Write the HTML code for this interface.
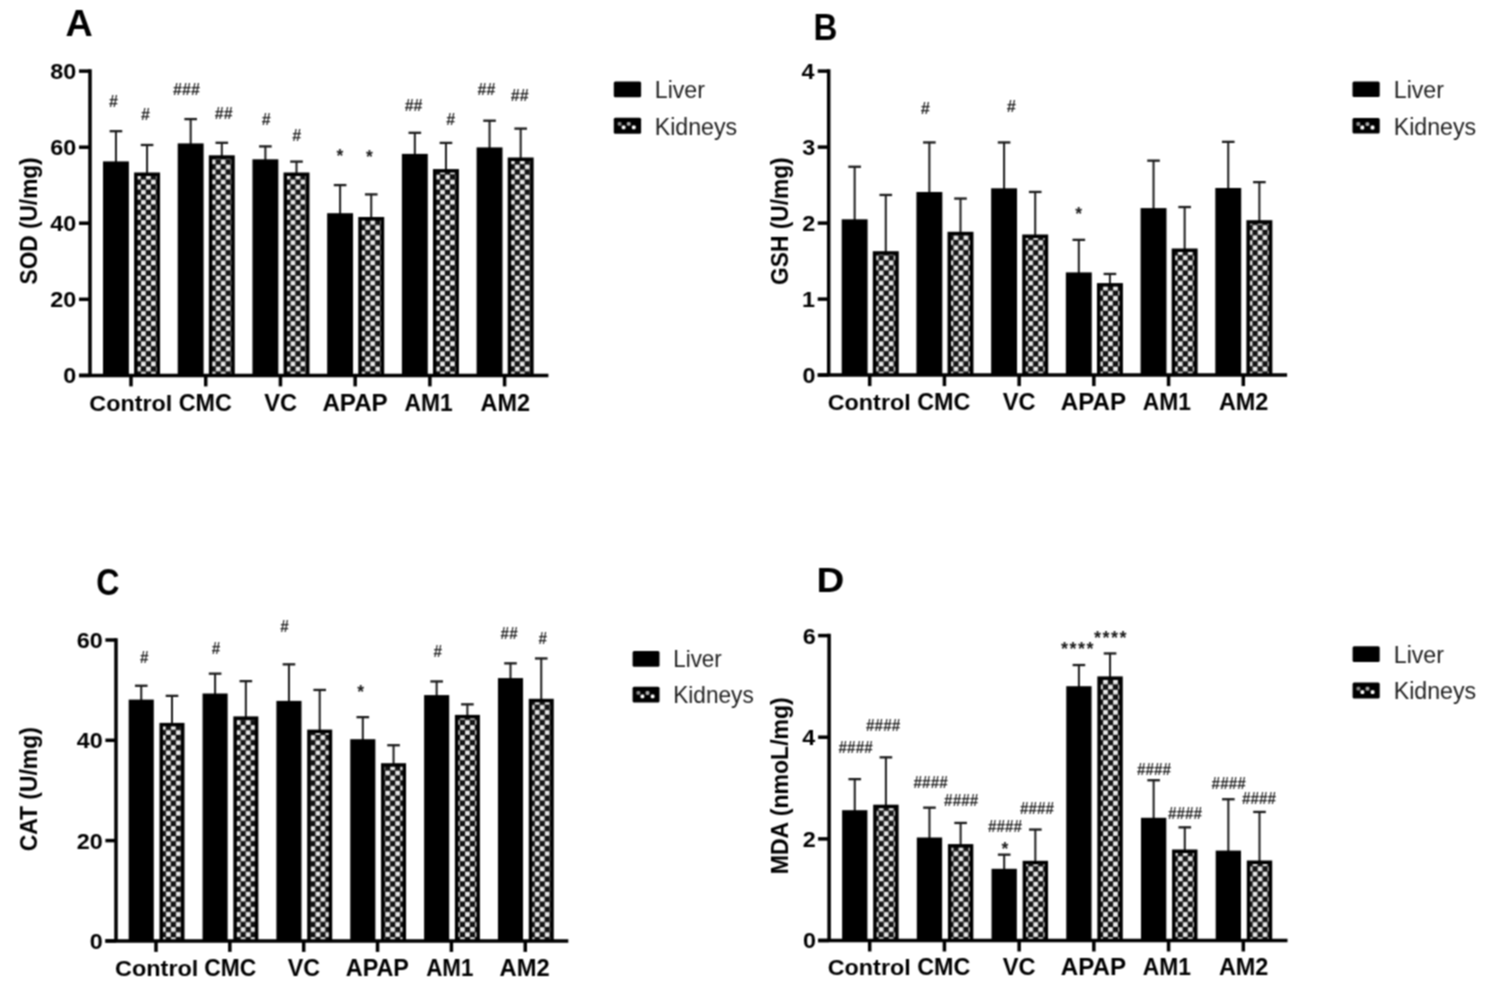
<!DOCTYPE html>
<html><head><meta charset="utf-8"><title>Figure</title>
<style>
html,body{margin:0;padding:0;background:#fff;width:1504px;height:988px;overflow:hidden}
svg{display:block}
text{font-family:'Liberation Sans', Arial, sans-serif}
.ax{stroke:#000;stroke-width:3.5;fill:none}
.eb{fill:#1a1a1a}
</style></head>
<body>
<svg width="1504" height="988" viewBox="0 0 1504 988">
<defs>
<pattern id="chk" patternUnits="userSpaceOnUse" x="140.95" y="250.25" width="9.97" height="10.1">
<rect width="9.97" height="10.1" fill="#111"/>
<rect x="0.15" y="0.25" width="4.6" height="4.6" fill="#eee"/>
<rect x="5.135" y="5.3" width="4.6" height="4.6" fill="#eee"/>
</pattern>
<filter id="soft" x="0" y="0" width="1504" height="988" filterUnits="userSpaceOnUse" color-interpolation-filters="sRGB"><feConvolveMatrix order="3" kernelMatrix="1 2 1 2 4 2 1 2 1" divisor="16" edgeMode="duplicate"/></filter>
</defs>
<g filter="url(#soft)">
<rect width="1504" height="988" fill="#fff"/>
<rect x="114.95" y="130.65" width="2" height="31.75" class="eb"/>
<rect x="109.65" y="130.05" width="12.6" height="2.3" class="eb"/>
<rect x="146.07" y="144.45" width="2" height="29.05" class="eb"/>
<rect x="140.77" y="143.85" width="12.6" height="2.3" class="eb"/>
<rect x="103" y="161.4" width="25.9" height="214"/>
<rect x="134.1" y="172.5" width="25.95" height="202.9"/>
<rect x="137.6" y="176" width="18.95" height="199.4" fill="url(#chk)"/>
<rect x="189.67" y="118.55" width="2" height="25.85" class="eb"/>
<rect x="184.37" y="117.95" width="12.6" height="2.3" class="eb"/>
<rect x="220.8" y="142.25" width="2" height="14.05" class="eb"/>
<rect x="215.5" y="141.65" width="12.6" height="2.3" class="eb"/>
<rect x="177.72" y="143.4" width="25.9" height="232"/>
<rect x="208.82" y="155.3" width="25.95" height="220.1"/>
<rect x="212.32" y="158.8" width="18.95" height="216.6" fill="url(#chk)"/>
<rect x="264.39" y="145.85" width="2" height="14.45" class="eb"/>
<rect x="259.09" y="145.25" width="12.6" height="2.3" class="eb"/>
<rect x="295.51" y="161.05" width="2" height="12.45" class="eb"/>
<rect x="290.21" y="160.45" width="12.6" height="2.3" class="eb"/>
<rect x="252.44" y="159.3" width="25.9" height="216.1"/>
<rect x="283.54" y="172.5" width="25.95" height="202.9"/>
<rect x="287.04" y="176" width="18.95" height="199.4" fill="url(#chk)"/>
<rect x="339.11" y="184.55" width="2" height="29.65" class="eb"/>
<rect x="333.81" y="183.95" width="12.6" height="2.3" class="eb"/>
<rect x="370.24" y="193.85" width="2" height="24.15" class="eb"/>
<rect x="364.94" y="193.25" width="12.6" height="2.3" class="eb"/>
<rect x="327.16" y="213.2" width="25.9" height="162.2"/>
<rect x="358.26" y="217" width="25.95" height="158.4"/>
<rect x="361.76" y="220.5" width="18.95" height="154.9" fill="url(#chk)"/>
<rect x="413.83" y="132.25" width="2" height="22.65" class="eb"/>
<rect x="408.53" y="131.65" width="12.6" height="2.3" class="eb"/>
<rect x="444.96" y="142.35" width="2" height="27.75" class="eb"/>
<rect x="439.66" y="141.75" width="12.6" height="2.3" class="eb"/>
<rect x="401.88" y="153.9" width="25.9" height="221.5"/>
<rect x="432.98" y="169.1" width="25.95" height="206.3"/>
<rect x="436.48" y="172.6" width="18.95" height="202.8" fill="url(#chk)"/>
<rect x="488.55" y="120.15" width="2" height="28.25" class="eb"/>
<rect x="483.25" y="119.55" width="12.6" height="2.3" class="eb"/>
<rect x="519.67" y="128.05" width="2" height="30.45" class="eb"/>
<rect x="514.38" y="127.45" width="12.6" height="2.3" class="eb"/>
<rect x="476.6" y="147.4" width="25.9" height="228"/>
<rect x="507.7" y="157.5" width="25.95" height="217.9"/>
<rect x="511.2" y="161" width="18.95" height="214.4" fill="url(#chk)"/>
<path d="M90 69.35V375.4M79 375.4H548.4" class="ax"/>
<path d="M79 71.1H90" class="ax"/>
<text transform="matrix(0.23365 0 0 0.22113 50.20 79.08)" style="font-size:100px;font-weight:bold;font-style:normal" fill="#000">80</text>
<path d="M79 147.2H90" class="ax"/>
<text transform="matrix(0.23365 0 0 0.22113 50.20 155.18)" style="font-size:100px;font-weight:bold;font-style:normal" fill="#000">60</text>
<path d="M79 223.2H90" class="ax"/>
<text transform="matrix(0.23365 0 0 0.22113 50.20 231.18)" style="font-size:100px;font-weight:bold;font-style:normal" fill="#000">40</text>
<path d="M79 299.3H90" class="ax"/>
<text transform="matrix(0.23365 0 0 0.22113 50.20 307.28)" style="font-size:100px;font-weight:bold;font-style:normal" fill="#000">20</text>
<path d="M79 375.4H90" class="ax"/>
<text transform="matrix(0.23365 0 0 0.22113 63.28 383.38)" style="font-size:100px;font-weight:bold;font-style:normal" fill="#000">0</text>
<path d="M131 375.4V386.4" class="ax"/>
<path d="M205.72 375.4V386.4" class="ax"/>
<path d="M280.44 375.4V386.4" class="ax"/>
<path d="M355.16 375.4V386.4" class="ax"/>
<path d="M429.88 375.4V386.4" class="ax"/>
<path d="M504.6 375.4V386.4" class="ax"/>
<text transform="matrix(0.23343 0 0 0.22603 89.37 410.50)" style="font-size:100px;font-weight:bold;font-style:normal" fill="#000">Control</text>
<text transform="matrix(0.23348 0 0 0.23571 178.77 410.50)" style="font-size:100px;font-weight:bold;font-style:normal" fill="#000">CMC</text>
<text transform="matrix(0.23630 0 0 0.23571 264.36 410.50)" style="font-size:100px;font-weight:bold;font-style:normal" fill="#000">VC</text>
<text transform="matrix(0.24167 0 0 0.23913 322.38 410.50)" style="font-size:100px;font-weight:bold;font-style:normal" fill="#000">APAP</text>
<text transform="matrix(0.22829 0 0 0.23913 404.42 410.50)" style="font-size:100px;font-weight:bold;font-style:normal" fill="#000">AM1</text>
<text transform="matrix(0.23431 0 0 0.23571 480.50 410.50)" style="font-size:100px;font-weight:bold;font-style:normal" fill="#000">AM2</text>
<text transform="matrix(0 -0.22658 0.23768 0 37.00 284.38)" style="font-size:100px;font-weight:bold">SOD (U/mg)</text>
<text transform="matrix(0.37727 0 0 0.36618 65.47 35.57)" style="font-size:100px;font-weight:bold;font-style:normal" fill="#000">A</text>
<text transform="matrix(0.16159 0 0 0.16418 108.81 106.76)" style="font-size:100px;font-weight:bold;font-style:italic" fill="#222">#</text>
<text transform="matrix(0.16159 0 0 0.16418 140.71 120.16)" style="font-size:100px;font-weight:bold;font-style:italic" fill="#222">#</text>
<text transform="matrix(0.16159 0 0 0.16418 172.87 95.46)" style="font-size:100px;font-weight:bold;font-style:italic" fill="#222">###</text>
<text transform="matrix(0.16159 0 0 0.16418 214.59 118.76)" style="font-size:100px;font-weight:bold;font-style:italic" fill="#222">##</text>
<text transform="matrix(0.16159 0 0 0.16418 261.51 124.56)" style="font-size:100px;font-weight:bold;font-style:italic" fill="#222">#</text>
<text transform="matrix(0.16159 0 0 0.16418 291.91 141.06)" style="font-size:100px;font-weight:bold;font-style:italic" fill="#222">#</text>
<text transform="matrix(0.17500 0 0 0.17500 336.59 162.14)" style="font-size:100px;font-weight:bold;font-style:normal" fill="#1a1a1a">*</text>
<text transform="matrix(0.17500 0 0 0.17500 365.89 163.14)" style="font-size:100px;font-weight:bold;font-style:normal" fill="#1a1a1a">*</text>
<text transform="matrix(0.16159 0 0 0.16418 404.39 110.86)" style="font-size:100px;font-weight:bold;font-style:italic" fill="#222">##</text>
<text transform="matrix(0.16159 0 0 0.16418 446.11 124.56)" style="font-size:100px;font-weight:bold;font-style:italic" fill="#222">#</text>
<text transform="matrix(0.16159 0 0 0.16418 477.19 94.66)" style="font-size:100px;font-weight:bold;font-style:italic" fill="#222">##</text>
<text transform="matrix(0.16159 0 0 0.16418 510.59 100.76)" style="font-size:100px;font-weight:bold;font-style:italic" fill="#222">##</text>
<rect x="613.8" y="81.5" width="27.3" height="15.8" rx="1.5"/>
<rect x="613.8" y="117.7" width="27.3" height="16.1" rx="1.5"/>
<rect x="617.7" y="121.9" width="3.8" height="3.8" rx="1.2" fill="#888"/>
<rect x="626.8" y="122" width="3.8" height="3.8" rx="1.2" fill="#aaa"/>
<rect x="621.7" y="125.4" width="3.8" height="3.8" rx="1.2" fill="#fff"/>
<rect x="631.9" y="125.4" width="3.8" height="3.8" rx="1.2" fill="#fff"/>
<text transform="matrix(0.23188 0 0 0.24058 654.74 98.10)" style="font-size:100px;font-weight:normal;font-style:normal" fill="#1e1e1e">Liver</text>
<text transform="matrix(0.23169 0 0 0.24058 654.75 134.60)" style="font-size:100px;font-weight:normal;font-style:normal" fill="#1e1e1e">Kidneys</text>
<rect x="853.65" y="166.2" width="2" height="54.1" class="eb"/>
<rect x="848.35" y="165.6" width="12.6" height="2.3" class="eb"/>
<rect x="884.78" y="194.4" width="2" height="57.8" class="eb"/>
<rect x="879.48" y="193.8" width="12.6" height="2.3" class="eb"/>
<rect x="841.7" y="219.3" width="25.9" height="155.8"/>
<rect x="872.8" y="251.2" width="25.95" height="123.9"/>
<rect x="876.3" y="254.7" width="18.95" height="120.4" fill="url(#chk)"/>
<rect x="928.37" y="141.9" width="2" height="51.1" class="eb"/>
<rect x="923.07" y="141.3" width="12.6" height="2.3" class="eb"/>
<rect x="959.5" y="198" width="2" height="34.8" class="eb"/>
<rect x="954.2" y="197.4" width="12.6" height="2.3" class="eb"/>
<rect x="916.42" y="192" width="25.9" height="183.1"/>
<rect x="947.52" y="231.8" width="25.95" height="143.3"/>
<rect x="951.02" y="235.3" width="18.95" height="139.8" fill="url(#chk)"/>
<rect x="1003.09" y="141.9" width="2" height="47.4" class="eb"/>
<rect x="997.79" y="141.3" width="12.6" height="2.3" class="eb"/>
<rect x="1034.22" y="191.4" width="2" height="44.1" class="eb"/>
<rect x="1028.92" y="190.8" width="12.6" height="2.3" class="eb"/>
<rect x="991.14" y="188.3" width="25.9" height="186.8"/>
<rect x="1022.24" y="234.5" width="25.95" height="140.6"/>
<rect x="1025.74" y="238" width="18.95" height="137.1" fill="url(#chk)"/>
<rect x="1077.81" y="239.3" width="2" height="34.1" class="eb"/>
<rect x="1072.51" y="238.7" width="12.6" height="2.3" class="eb"/>
<rect x="1108.93" y="273.4" width="2" height="10.7" class="eb"/>
<rect x="1103.63" y="272.8" width="12.6" height="2.3" class="eb"/>
<rect x="1065.86" y="272.4" width="25.9" height="102.7"/>
<rect x="1096.96" y="283.1" width="25.95" height="92"/>
<rect x="1100.46" y="286.6" width="18.95" height="88.5" fill="url(#chk)"/>
<rect x="1152.53" y="160.1" width="2" height="49" class="eb"/>
<rect x="1147.23" y="159.5" width="12.6" height="2.3" class="eb"/>
<rect x="1183.65" y="206.5" width="2" height="43" class="eb"/>
<rect x="1178.35" y="205.9" width="12.6" height="2.3" class="eb"/>
<rect x="1140.58" y="208.1" width="25.9" height="167"/>
<rect x="1171.68" y="248.5" width="25.95" height="126.6"/>
<rect x="1175.18" y="252" width="18.95" height="123.1" fill="url(#chk)"/>
<rect x="1227.25" y="141.3" width="2" height="47.7" class="eb"/>
<rect x="1221.95" y="140.7" width="12.6" height="2.3" class="eb"/>
<rect x="1258.38" y="181.6" width="2" height="39.6" class="eb"/>
<rect x="1253.08" y="181" width="12.6" height="2.3" class="eb"/>
<rect x="1215.3" y="188" width="25.9" height="187.1"/>
<rect x="1246.4" y="220.2" width="25.95" height="154.9"/>
<rect x="1249.9" y="223.7" width="18.95" height="151.4" fill="url(#chk)"/>
<path d="M828.7 69.35V375.1M817.7 375.1H1287.1" class="ax"/>
<path d="M817.7 71.1H828.7" class="ax"/>
<text transform="matrix(0.23365 0 0 0.22113 801.55 79.08)" style="font-size:100px;font-weight:bold;font-style:normal" fill="#000">4</text>
<path d="M817.7 147.1H828.7" class="ax"/>
<text transform="matrix(0.23365 0 0 0.22113 802.25 155.08)" style="font-size:100px;font-weight:bold;font-style:normal" fill="#000">3</text>
<path d="M817.7 223.1H828.7" class="ax"/>
<text transform="matrix(0.23365 0 0 0.22113 802.25 231.19)" style="font-size:100px;font-weight:bold;font-style:normal" fill="#000">2</text>
<path d="M817.7 299.1H828.7" class="ax"/>
<text transform="matrix(0.23365 0 0 0.22113 802.02 307.08)" style="font-size:100px;font-weight:bold;font-style:normal" fill="#000">1</text>
<path d="M817.7 375.1H828.7" class="ax"/>
<text transform="matrix(0.23365 0 0 0.22113 802.48 383.08)" style="font-size:100px;font-weight:bold;font-style:normal" fill="#000">0</text>
<path d="M869.7 375.1V386.1" class="ax"/>
<path d="M944.42 375.1V386.1" class="ax"/>
<path d="M1019.14 375.1V386.1" class="ax"/>
<path d="M1093.86 375.1V386.1" class="ax"/>
<path d="M1168.58 375.1V386.1" class="ax"/>
<path d="M1243.3 375.1V386.1" class="ax"/>
<text transform="matrix(0.23343 0 0 0.22466 827.77 410.20)" style="font-size:100px;font-weight:bold;font-style:normal" fill="#000">Control</text>
<text transform="matrix(0.23348 0 0 0.23429 917.17 410.20)" style="font-size:100px;font-weight:bold;font-style:normal" fill="#000">CMC</text>
<text transform="matrix(0.23630 0 0 0.23429 1002.76 410.20)" style="font-size:100px;font-weight:bold;font-style:normal" fill="#000">VC</text>
<text transform="matrix(0.24167 0 0 0.23768 1060.78 410.20)" style="font-size:100px;font-weight:bold;font-style:normal" fill="#000">APAP</text>
<text transform="matrix(0.22829 0 0 0.23768 1142.82 410.20)" style="font-size:100px;font-weight:bold;font-style:normal" fill="#000">AM1</text>
<text transform="matrix(0.23431 0 0 0.23429 1218.90 410.20)" style="font-size:100px;font-weight:bold;font-style:normal" fill="#000">AM2</text>
<text transform="matrix(0 -0.22754 0.23768 0 787.70 284.91)" style="font-size:100px;font-weight:bold">GSH (U/mg)</text>
<text transform="matrix(0.33115 0 0 0.36232 813.38 40.40)" style="font-size:100px;font-weight:bold;font-style:normal" fill="#000">B</text>
<text transform="matrix(0.16538 0 0 0.16567 920.50 114.32)" style="font-size:100px;font-weight:bold;font-style:italic" fill="#222">#</text>
<text transform="matrix(0.16538 0 0 0.16567 1006.40 112.32)" style="font-size:100px;font-weight:bold;font-style:italic" fill="#222">#</text>
<text transform="matrix(0.17500 0 0 0.17500 1075.19 220.04)" style="font-size:100px;font-weight:bold;font-style:normal" fill="#1a1a1a">*</text>
<rect x="1352.5" y="81.5" width="27.2" height="15.6" rx="1.5"/>
<rect x="1352.5" y="117.9" width="27.2" height="15.7" rx="1.5"/>
<rect x="1356.4" y="122.1" width="3.8" height="3.8" rx="1.2" fill="#888"/>
<rect x="1365.5" y="122.2" width="3.8" height="3.8" rx="1.2" fill="#aaa"/>
<rect x="1360.4" y="125.6" width="3.8" height="3.8" rx="1.2" fill="#fff"/>
<rect x="1370.6" y="125.6" width="3.8" height="3.8" rx="1.2" fill="#fff"/>
<text transform="matrix(0.23188 0 0 0.24058 1393.74 97.90)" style="font-size:100px;font-weight:normal;font-style:normal" fill="#1e1e1e">Liver</text>
<text transform="matrix(0.23169 0 0 0.24058 1393.75 134.60)" style="font-size:100px;font-weight:normal;font-style:normal" fill="#1e1e1e">Kidneys</text>
<rect x="140.25" y="685.2" width="2" height="15.4" class="eb"/>
<rect x="134.95" y="684.6" width="12.6" height="2.3" class="eb"/>
<rect x="171" y="695.3" width="2" height="28.6" class="eb"/>
<rect x="165.7" y="694.7" width="12.6" height="2.3" class="eb"/>
<rect x="128.7" y="699.6" width="25.1" height="241.3"/>
<rect x="159.5" y="722.9" width="25" height="218"/>
<rect x="163" y="726.4" width="18" height="214.5" fill="url(#chk)"/>
<rect x="214.1" y="673.1" width="2" height="21.4" class="eb"/>
<rect x="208.8" y="672.5" width="12.6" height="2.3" class="eb"/>
<rect x="244.85" y="680.6" width="2" height="36.8" class="eb"/>
<rect x="239.55" y="680" width="12.6" height="2.3" class="eb"/>
<rect x="202.55" y="693.5" width="25.1" height="247.4"/>
<rect x="233.35" y="716.4" width="25" height="224.5"/>
<rect x="236.85" y="719.9" width="18" height="221" fill="url(#chk)"/>
<rect x="287.95" y="663.8" width="2" height="38.1" class="eb"/>
<rect x="282.65" y="663.2" width="12.6" height="2.3" class="eb"/>
<rect x="318.7" y="689.4" width="2" height="41.2" class="eb"/>
<rect x="313.4" y="688.8" width="12.6" height="2.3" class="eb"/>
<rect x="276.4" y="700.9" width="25.1" height="240"/>
<rect x="307.2" y="729.6" width="25" height="211.3"/>
<rect x="310.7" y="733.1" width="18" height="207.8" fill="url(#chk)"/>
<rect x="361.8" y="716.6" width="2" height="23.6" class="eb"/>
<rect x="356.5" y="716" width="12.6" height="2.3" class="eb"/>
<rect x="392.55" y="744.7" width="2" height="19.5" class="eb"/>
<rect x="387.25" y="744.1" width="12.6" height="2.3" class="eb"/>
<rect x="350.25" y="739.2" width="25.1" height="201.7"/>
<rect x="381.05" y="763.2" width="25" height="177.7"/>
<rect x="384.55" y="766.7" width="18" height="174.2" fill="url(#chk)"/>
<rect x="435.65" y="680.9" width="2" height="15.2" class="eb"/>
<rect x="430.35" y="680.3" width="12.6" height="2.3" class="eb"/>
<rect x="466.4" y="703.8" width="2" height="12.1" class="eb"/>
<rect x="461.1" y="703.2" width="12.6" height="2.3" class="eb"/>
<rect x="424.1" y="695.1" width="25.1" height="245.8"/>
<rect x="454.9" y="714.9" width="25" height="226"/>
<rect x="458.4" y="718.4" width="18" height="222.5" fill="url(#chk)"/>
<rect x="509.5" y="662.8" width="2" height="16.3" class="eb"/>
<rect x="504.2" y="662.2" width="12.6" height="2.3" class="eb"/>
<rect x="540.25" y="657.9" width="2" height="41.9" class="eb"/>
<rect x="534.95" y="657.3" width="12.6" height="2.3" class="eb"/>
<rect x="497.95" y="678.1" width="25.1" height="262.8"/>
<rect x="528.75" y="698.8" width="25" height="242.1"/>
<rect x="532.25" y="702.3" width="18" height="238.6" fill="url(#chk)"/>
<path d="M116 638.25V940.9M105.4 940.9H568.3" class="ax"/>
<path d="M105.4 640H116" class="ax"/>
<text transform="matrix(0.23365 0 0 0.22113 76.70 647.98)" style="font-size:100px;font-weight:bold;font-style:normal" fill="#000">60</text>
<path d="M105.4 740.3H116" class="ax"/>
<text transform="matrix(0.23365 0 0 0.22113 76.70 748.28)" style="font-size:100px;font-weight:bold;font-style:normal" fill="#000">40</text>
<path d="M105.4 840.6H116" class="ax"/>
<text transform="matrix(0.23365 0 0 0.22113 76.70 848.58)" style="font-size:100px;font-weight:bold;font-style:normal" fill="#000">20</text>
<path d="M105.4 940.9H116" class="ax"/>
<text transform="matrix(0.23365 0 0 0.22113 89.78 948.88)" style="font-size:100px;font-weight:bold;font-style:normal" fill="#000">0</text>
<path d="M156 940.9V951.9" class="ax"/>
<path d="M229.85 940.9V951.9" class="ax"/>
<path d="M303.7 940.9V951.9" class="ax"/>
<path d="M377.55 940.9V951.9" class="ax"/>
<path d="M451.4 940.9V951.9" class="ax"/>
<path d="M525.25 940.9V951.9" class="ax"/>
<text transform="matrix(0.23488 0 0 0.22603 114.96 975.50)" style="font-size:100px;font-weight:bold;font-style:normal" fill="#000">Control</text>
<text transform="matrix(0.22851 0 0 0.23571 204.29 975.50)" style="font-size:100px;font-weight:bold;font-style:normal" fill="#000">CMC</text>
<text transform="matrix(0.23259 0 0 0.23571 287.77 975.50)" style="font-size:100px;font-weight:bold;font-style:normal" fill="#000">VC</text>
<text transform="matrix(0.23371 0 0 0.23913 345.80 975.50)" style="font-size:100px;font-weight:bold;font-style:normal" fill="#000">APAP</text>
<text transform="matrix(0.22341 0 0 0.23913 426.23 975.50)" style="font-size:100px;font-weight:bold;font-style:normal" fill="#000">AM1</text>
<text transform="matrix(0.23725 0 0 0.23571 499.59 975.50)" style="font-size:100px;font-weight:bold;font-style:normal" fill="#000">AM2</text>
<text transform="matrix(0 -0.22884 0.24203 0 37.30 851.32)" style="font-size:100px;font-weight:bold">CAT (U/mg)</text>
<text transform="matrix(0.32154 0 0 0.36338 96.21 595.14)" style="font-size:100px;font-weight:bold;font-style:normal" fill="#000">C</text>
<text transform="matrix(0.15370 0 0 0.17015 139.64 662.57)" style="font-size:100px;font-weight:bold;font-style:italic" fill="#222">#</text>
<text transform="matrix(0.15370 0 0 0.17015 211.54 653.87)" style="font-size:100px;font-weight:bold;font-style:italic" fill="#222">#</text>
<text transform="matrix(0.15370 0 0 0.17015 280.04 632.27)" style="font-size:100px;font-weight:bold;font-style:italic" fill="#222">#</text>
<text transform="matrix(0.17500 0 0 0.17500 357.19 697.54)" style="font-size:100px;font-weight:bold;font-style:normal" fill="#1a1a1a">*</text>
<text transform="matrix(0.15370 0 0 0.17015 433.24 657.27)" style="font-size:100px;font-weight:bold;font-style:italic" fill="#222">#</text>
<text transform="matrix(0.15370 0 0 0.17015 500.34 639.07)" style="font-size:100px;font-weight:bold;font-style:italic" fill="#222">##</text>
<text transform="matrix(0.15370 0 0 0.17015 538.24 643.87)" style="font-size:100px;font-weight:bold;font-style:italic" fill="#222">#</text>
<rect x="632.6" y="650.9" width="26.9" height="15.8" rx="1.5"/>
<rect x="632.6" y="686.8" width="26.9" height="15.6" rx="1.5"/>
<rect x="636.5" y="691" width="3.8" height="3.8" rx="1.2" fill="#888"/>
<rect x="645.6" y="691.1" width="3.8" height="3.8" rx="1.2" fill="#aaa"/>
<rect x="640.5" y="694.5" width="3.8" height="3.8" rx="1.2" fill="#fff"/>
<rect x="650.7" y="694.5" width="3.8" height="3.8" rx="1.2" fill="#fff"/>
<text transform="matrix(0.22415 0 0 0.24058 673.21 666.70)" style="font-size:100px;font-weight:normal;font-style:normal" fill="#1e1e1e">Liver</text>
<text transform="matrix(0.22645 0 0 0.24058 673.19 702.80)" style="font-size:100px;font-weight:normal;font-style:normal" fill="#1e1e1e">Kidneys</text>
<rect x="853.75" y="778.6" width="2" height="32.6" class="eb"/>
<rect x="848.45" y="778" width="12.6" height="2.3" class="eb"/>
<rect x="884.9" y="756.8" width="2" height="48.9" class="eb"/>
<rect x="879.6" y="756.2" width="12.6" height="2.3" class="eb"/>
<rect x="842.1" y="810.2" width="25.3" height="130.3"/>
<rect x="873.2" y="804.7" width="25.4" height="135.8"/>
<rect x="876.7" y="808.2" width="18.4" height="132.3" fill="url(#chk)"/>
<rect x="928.47" y="807.1" width="2" height="31.4" class="eb"/>
<rect x="923.17" y="806.5" width="12.6" height="2.3" class="eb"/>
<rect x="959.62" y="822.4" width="2" height="22.7" class="eb"/>
<rect x="954.32" y="821.8" width="12.6" height="2.3" class="eb"/>
<rect x="916.82" y="837.5" width="25.3" height="103"/>
<rect x="947.92" y="844.1" width="25.4" height="96.4"/>
<rect x="951.42" y="847.6" width="18.4" height="92.9" fill="url(#chk)"/>
<rect x="1003.19" y="854.1" width="2" height="15.7" class="eb"/>
<rect x="997.89" y="853.5" width="12.6" height="2.3" class="eb"/>
<rect x="1034.34" y="829" width="2" height="32.8" class="eb"/>
<rect x="1029.04" y="828.4" width="12.6" height="2.3" class="eb"/>
<rect x="991.54" y="868.8" width="25.3" height="71.7"/>
<rect x="1022.64" y="860.8" width="25.4" height="79.7"/>
<rect x="1026.14" y="864.3" width="18.4" height="76.2" fill="url(#chk)"/>
<rect x="1077.91" y="664.5" width="2" height="22.7" class="eb"/>
<rect x="1072.61" y="663.9" width="12.6" height="2.3" class="eb"/>
<rect x="1109.06" y="652.9" width="2" height="24.5" class="eb"/>
<rect x="1103.76" y="652.3" width="12.6" height="2.3" class="eb"/>
<rect x="1066.26" y="686.2" width="25.3" height="254.3"/>
<rect x="1097.36" y="676.4" width="25.4" height="264.1"/>
<rect x="1100.86" y="679.9" width="18.4" height="260.6" fill="url(#chk)"/>
<rect x="1152.63" y="779.7" width="2" height="39.1" class="eb"/>
<rect x="1147.33" y="779.1" width="12.6" height="2.3" class="eb"/>
<rect x="1183.78" y="826.8" width="2" height="23.7" class="eb"/>
<rect x="1178.48" y="826.2" width="12.6" height="2.3" class="eb"/>
<rect x="1140.98" y="817.8" width="25.3" height="122.7"/>
<rect x="1172.08" y="849.5" width="25.4" height="91"/>
<rect x="1175.58" y="853" width="18.4" height="87.5" fill="url(#chk)"/>
<rect x="1227.35" y="798.7" width="2" height="52.9" class="eb"/>
<rect x="1222.05" y="798.1" width="12.6" height="2.3" class="eb"/>
<rect x="1258.5" y="811.4" width="2" height="50.1" class="eb"/>
<rect x="1253.2" y="810.8" width="12.6" height="2.3" class="eb"/>
<rect x="1215.7" y="850.6" width="25.3" height="89.9"/>
<rect x="1246.8" y="860.5" width="25.4" height="80"/>
<rect x="1250.3" y="864" width="18.4" height="76.5" fill="url(#chk)"/>
<path d="M829.1 633.85V940.5M818.1 940.5H1287.5" class="ax"/>
<path d="M818.1 635.6H829.1" class="ax"/>
<text transform="matrix(0.23365 0 0 0.22113 802.85 643.58)" style="font-size:100px;font-weight:bold;font-style:normal" fill="#000">6</text>
<path d="M818.1 737.2H829.1" class="ax"/>
<text transform="matrix(0.23365 0 0 0.22113 802.15 745.18)" style="font-size:100px;font-weight:bold;font-style:normal" fill="#000">4</text>
<path d="M818.1 838.9H829.1" class="ax"/>
<text transform="matrix(0.23365 0 0 0.22113 802.85 846.99)" style="font-size:100px;font-weight:bold;font-style:normal" fill="#000">2</text>
<path d="M818.1 940.5H829.1" class="ax"/>
<text transform="matrix(0.23365 0 0 0.22113 803.08 948.48)" style="font-size:100px;font-weight:bold;font-style:normal" fill="#000">0</text>
<path d="M869.7 940.5V951.5" class="ax"/>
<path d="M944.42 940.5V951.5" class="ax"/>
<path d="M1019.14 940.5V951.5" class="ax"/>
<path d="M1093.86 940.5V951.5" class="ax"/>
<path d="M1168.58 940.5V951.5" class="ax"/>
<path d="M1243.3 940.5V951.5" class="ax"/>
<text transform="matrix(0.23343 0 0 0.22466 827.77 975.00)" style="font-size:100px;font-weight:bold;font-style:normal" fill="#000">Control</text>
<text transform="matrix(0.23348 0 0 0.23429 917.17 975.00)" style="font-size:100px;font-weight:bold;font-style:normal" fill="#000">CMC</text>
<text transform="matrix(0.23630 0 0 0.23429 1002.76 975.00)" style="font-size:100px;font-weight:bold;font-style:normal" fill="#000">VC</text>
<text transform="matrix(0.24167 0 0 0.23768 1060.78 975.00)" style="font-size:100px;font-weight:bold;font-style:normal" fill="#000">APAP</text>
<text transform="matrix(0.22829 0 0 0.23768 1142.82 975.00)" style="font-size:100px;font-weight:bold;font-style:normal" fill="#000">AM1</text>
<text transform="matrix(0.23431 0 0 0.23429 1218.90 975.00)" style="font-size:100px;font-weight:bold;font-style:normal" fill="#000">AM2</text>
<text transform="matrix(0 -0.23056 0.23768 0 787.80 874.31)" style="font-size:100px;font-weight:bold">MDA (nmoL/mg)</text>
<text transform="matrix(0.38525 0 0 0.35652 816.50 591.70)" style="font-size:100px;font-weight:bold;font-style:normal" fill="#000">D</text>
<text transform="matrix(0.15434 0 0 0.15821 838.24 753.26)" style="font-size:100px;font-weight:bold;font-style:italic" fill="#222">####</text>
<text transform="matrix(0.15434 0 0 0.15821 865.74 730.76)" style="font-size:100px;font-weight:bold;font-style:italic" fill="#222">####</text>
<text transform="matrix(0.15434 0 0 0.15821 913.24 788.16)" style="font-size:100px;font-weight:bold;font-style:italic" fill="#222">####</text>
<text transform="matrix(0.15434 0 0 0.15821 943.84 805.66)" style="font-size:100px;font-weight:bold;font-style:italic" fill="#222">####</text>
<text transform="matrix(0.15434 0 0 0.15821 987.64 831.86)" style="font-size:100px;font-weight:bold;font-style:italic" fill="#222">####</text>
<text transform="matrix(0.17500 0 0 0.17500 1001.59 854.84)" style="font-size:100px;font-weight:bold;font-style:normal" fill="#1a1a1a">*</text>
<text transform="matrix(0.15434 0 0 0.15821 1019.64 814.36)" style="font-size:100px;font-weight:bold;font-style:italic" fill="#222">####</text>
<text transform="matrix(0.18000 0 0 0.18000 1061.04 654.59)" style="font-size:100px;font-weight:bold;font-style:normal" fill="#1a1a1a" letter-spacing="8.32">****</text>
<text transform="matrix(0.18000 0 0 0.18000 1094.04 643.59)" style="font-size:100px;font-weight:bold;font-style:normal" fill="#1a1a1a" letter-spacing="8.32">****</text>
<text transform="matrix(0.15434 0 0 0.15821 1136.64 775.36)" style="font-size:100px;font-weight:bold;font-style:italic" fill="#222">####</text>
<text transform="matrix(0.15434 0 0 0.15821 1167.64 819.16)" style="font-size:100px;font-weight:bold;font-style:italic" fill="#222">####</text>
<text transform="matrix(0.15434 0 0 0.15821 1211.34 788.86)" style="font-size:100px;font-weight:bold;font-style:italic" fill="#222">####</text>
<text transform="matrix(0.15434 0 0 0.15821 1241.64 803.86)" style="font-size:100px;font-weight:bold;font-style:italic" fill="#222">####</text>
<rect x="1352.6" y="646.2" width="27.1" height="15.8" rx="1.5"/>
<rect x="1352.6" y="682.5" width="27.1" height="15.9" rx="1.5"/>
<rect x="1356.5" y="686.7" width="3.8" height="3.8" rx="1.2" fill="#888"/>
<rect x="1365.6" y="686.8" width="3.8" height="3.8" rx="1.2" fill="#aaa"/>
<rect x="1360.5" y="690.2" width="3.8" height="3.8" rx="1.2" fill="#fff"/>
<rect x="1370.7" y="690.2" width="3.8" height="3.8" rx="1.2" fill="#fff"/>
<text transform="matrix(0.23188 0 0 0.24058 1393.74 662.70)" style="font-size:100px;font-weight:normal;font-style:normal" fill="#1e1e1e">Liver</text>
<text transform="matrix(0.23169 0 0 0.24058 1393.75 699.10)" style="font-size:100px;font-weight:normal;font-style:normal" fill="#1e1e1e">Kidneys</text>
</g>
</svg>
</body></html>
